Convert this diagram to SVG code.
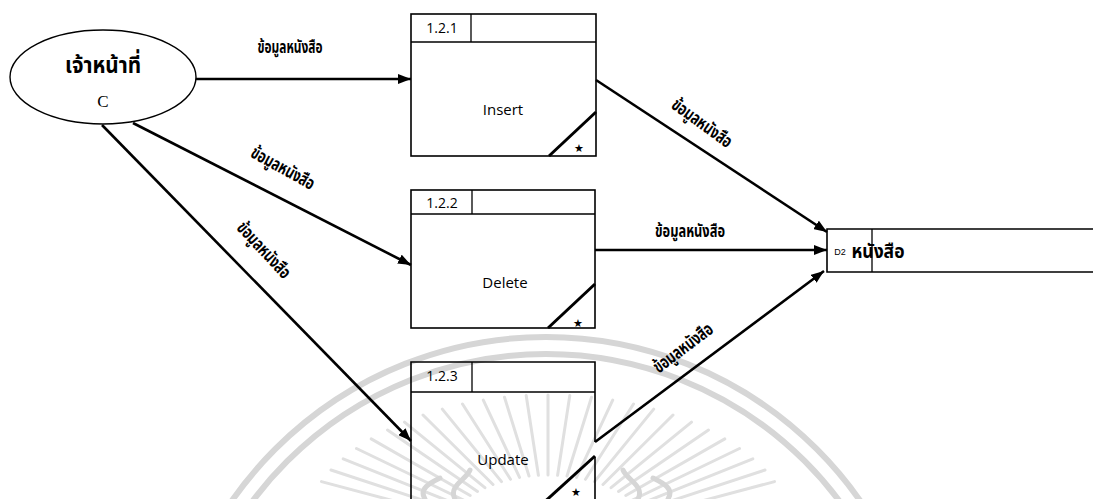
<svg xmlns="http://www.w3.org/2000/svg" width="1093" height="499" viewBox="0 0 1093 499">
  <style>
    .box { fill: none; stroke: #000; stroke-width: 1.6; }
    .div { fill: none; stroke: #000; stroke-width: 1.3; }
    .corner { stroke: #000; stroke-width: 3; }
    .flow { fill: none; stroke: #000; stroke-width: 2.6; marker-end: url(#arrow); }
    .num { font-family: "Open Sans", "Liberation Sans", sans-serif; font-size: 14px; fill: #000; text-anchor: middle; }
    .name { font-family: "Open Sans", "Liberation Sans", sans-serif; font-size: 15px; fill: #000; text-anchor: middle; }
    .star { font-family: "DejaVu Sans", sans-serif; font-size: 11px; fill: #000; text-anchor: middle; }
    .th { font-family: "Noto Sans Thai", "Noto Sans", "DejaVu Sans", sans-serif; font-weight: bold; fill: #000; text-anchor: middle; }
    .lbl { font-size: 18px; }
    .mark { fill: none; stroke: #d6d6d6; }
    .ray { fill: none; stroke: #e0e0e0; stroke-width: 3; stroke-linecap: round; }
  </style>
  <defs>
    <marker id="arrow" markerUnits="userSpaceOnUse" markerWidth="13" markerHeight="10" refX="13" refY="5" orient="auto">
      <path d="M0,0 L13,5 L0,10 Z" fill="#000"/>
    </marker>
  </defs>

  <!-- faint emblem in the background -->
  <g id="emblem">
    <circle class="mark" cx="546" cy="720" r="383" stroke-width="6"/>
    <circle class="mark" cx="546" cy="720" r="366" stroke-width="6"/>
    <path class="ray" d="
      M321.5,481.6 L448.3,515.4
      M331.0,470.0 L452.5,510.0
      M343.2,458.9 L457.9,504.8
      M356.5,448.5 L463.5,500.0
      M371.2,438.9 L470.2,495.5
      M387.5,430.0 L477.5,491.5
      M404.5,422.1 L484.9,487.7
      M423.0,415.0 L493.0,484.5
      M442.3,409.1 L501.5,481.6
      M462.5,404.0 L510.5,479.3
      M483.3,400.1 L519.5,477.4
      M504.5,397.3 L529.0,476.0
      M526.2,395.6 L538.4,475.3
      M548.0,395.0 L548.0,475.0
      M569.8,395.6 L557.6,475.3
      M591.5,397.3 L567.0,476.0
      M612.7,400.1 L576.5,477.4
      M633.5,404.0 L585.5,479.3
      M653.7,409.1 L594.5,481.6
      M673.0,415.0 L603.0,484.5
      M691.5,422.1 L611.1,487.7
      M708.5,430.0 L618.5,491.5
      M724.8,438.9 L625.8,495.5
      M739.5,448.5 L632.5,500.0
      M752.8,458.9 L638.1,504.8
      M765.0,470.0 L643.5,510.0
      M774.5,481.6 L647.7,515.4"/>
    <path class="mark" stroke-width="5" stroke-linecap="round" d="
      M425,499 C418,488 432,482 440,478
      M455,499 C448,486 466,480 470,470
      M668,499 C675,488 661,482 653,478
      M638,499 C645,486 627,480 623,470"/>
  </g>

  <!-- external entity -->
  <g id="officer">
    <ellipse cx="103" cy="77" rx="93" ry="47" fill="none" stroke="#000" stroke-width="1.4"/>
    <text class="th" x="103" y="73" font-size="23" textLength="76" lengthAdjust="spacingAndGlyphs">เจ้าหน้าที่</text>
    <text x="103" y="107" font-family="Liberation Serif, serif" font-size="17" text-anchor="middle">C</text>
  </g>

  <!-- process 1.2.1 -->
  <g id="p121">
    <rect class="box" x="411" y="14" width="185" height="142"/>
    <line class="div" x1="411" y1="42" x2="596" y2="42"/>
    <line class="div" x1="471" y1="14" x2="471" y2="42"/>
    <text class="num" x="442" y="33">1.2.1</text>
    <text class="name" x="503" y="115">Insert</text>
    <line class="corner" x1="549" y1="156" x2="596" y2="112"/>
    <text class="star" x="579" y="152">★</text>
  </g>

  <!-- process 1.2.2 -->
  <g id="p122">
    <rect class="box" x="411" y="190" width="184" height="138"/>
    <line class="div" x1="411" y1="214" x2="595" y2="214"/>
    <line class="div" x1="472" y1="190" x2="472" y2="214"/>
    <text class="num" x="442" y="208">1.2.2</text>
    <text class="name" x="505" y="288">Delete</text>
    <line class="corner" x1="548" y1="328" x2="595" y2="284"/>
    <text class="star" x="578" y="327">★</text>
  </g>

  <!-- process 1.2.3 -->
  <g id="p123">
    <path class="box" d="M411,505 L411,362 L595,362 L595,442 M595,457 L595,505"/>
    <line class="div" x1="411" y1="392" x2="595" y2="392"/>
    <line class="div" x1="472" y1="362" x2="472" y2="392"/>
    <text class="num" x="442" y="381">1.2.3</text>
    <text class="name" x="503" y="465">Update</text>
    <line class="corner" x1="540" y1="506" x2="595" y2="456"/>
    <text class="star" x="576" y="496">★</text>
  </g>

  <!-- data store D2 -->
  <g id="d2">
    <path class="box" d="M1095,229 L827,229 L827,272 L1095,272"/>
    <line class="div" x1="872" y1="229" x2="872" y2="272"/>
    <text x="840" y="255" font-family="Liberation Sans, sans-serif" font-size="9" text-anchor="middle">D2</text>
    <text class="th" x="878" y="258" font-size="20" text-anchor="start" textLength="53" lengthAdjust="spacingAndGlyphs">หนังสือ</text>
  </g>

  <!-- data flows -->
  <g id="flows">
    <path class="flow" d="M196,79 L411,79"/>
    <path class="flow" d="M133,123 L411,265"/>
    <path class="flow" d="M102,125 L411,441"/>
    <path class="flow" d="M596,80 L827,232"/>
    <path class="flow" d="M595,250 L827,250"/>
    <path class="flow" d="M595,442 L824,271"/>

    <text class="th lbl" x="290" y="53" textLength="65" lengthAdjust="spacingAndGlyphs">ข้อมูลหนังสือ</text>
    <text class="th lbl" transform="translate(283,168) rotate(29)" x="0" y="6" textLength="70" lengthAdjust="spacingAndGlyphs">ข้อมูลหนังสือ</text>
    <text class="th lbl" transform="translate(264,250) rotate(47)" x="0" y="6" textLength="70" lengthAdjust="spacingAndGlyphs">ข้อมูลหนังสือ</text>
    <text class="th lbl" transform="translate(702,123) rotate(36)" x="0" y="6" textLength="70" lengthAdjust="spacingAndGlyphs">ข้อมูลหนังสือ</text>
    <text class="th lbl" x="690" y="237" textLength="70" lengthAdjust="spacingAndGlyphs">ข้อมูลหนังสือ</text>
    <text class="th lbl" transform="translate(683,348) rotate(-37)" x="0" y="6" textLength="70" lengthAdjust="spacingAndGlyphs">ข้อมูลหนังสือ</text>
  </g>
</svg>
